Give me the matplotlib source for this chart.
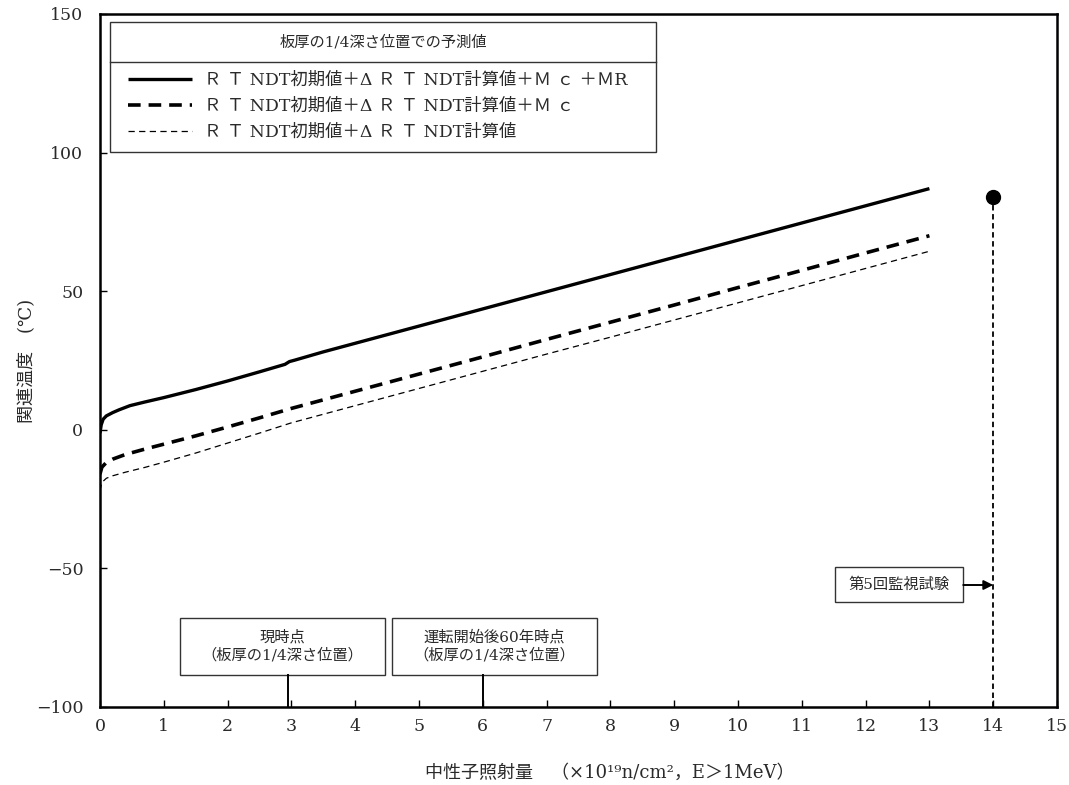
import matplotlib
matplotlib.use('Agg')
import matplotlib.pyplot as plt
from matplotlib.patches import Rectangle

# ---------------- data ----------------
fluence_a = [0.0, 0.02, 0.05, 0.1, 0.2, 0.3, 0.47, 0.7, 1.0, 1.5, 2.0, 2.5, 2.9, 2.97, 3.05,
             3.5, 4, 5, 6, 7, 8, 9, 10, 11, 12, 13]
temp_a = [-1.2, 1.8, 3.8, 5.0, 6.2, 7.2, 8.7, 10.0, 11.6, 14.5, 17.6, 20.9, 23.6, 24.6, 25.1,
          28.1, 31.2, 37.4, 43.6, 49.8, 56.0, 62.2, 68.4, 74.6, 80.8, 87.0]

fluence_b = [0.0, 0.03, 0.1, 0.2, 0.4, 0.7, 1.0, 1.5, 2.0, 2.5, 3.0,
             4, 5, 6, 7, 8, 9, 10, 11, 12, 13]
temp_b = [-16.0, -13.5, -11.8, -10.6, -8.9, -7.0, -5.2, -2.2, 1.0, 4.3, 7.7,
          13.9, 20.1, 26.3, 32.6, 38.8, 45.0, 51.3, 57.5, 63.8, 70.0]

fluence_c = [0.0, 0.03, 0.1, 0.2, 0.4, 0.7, 1.0, 1.5, 2.0, 2.5, 3.0,
             4, 5, 6, 7, 8, 9, 10, 11, 12, 13]
temp_c = [-22.0, -19.0, -17.5, -16.6, -15.3, -13.6, -11.7, -8.4, -4.8, -1.2, 2.5,
          8.7, 14.9, 21.1, 27.3, 33.4, 39.6, 45.8, 52.0, 58.2, 64.4]

surv_x = [14.0]
surv_y = [84.0]

labels = ["Ｒ Ｔ NDT初期値＋Δ Ｒ Ｔ NDT計算値＋Ｍ ｃ ＋ＭR",
          "Ｒ Ｔ NDT初期値＋Δ Ｒ Ｔ NDT計算値＋Ｍ ｃ",
          "Ｒ Ｔ NDT初期値＋Δ Ｒ Ｔ NDT計算値"]
legend_title = "板厚の1/4深さ位置での予測値"

event_x = [2.95, 6.0]
event_labels = ["現時点\n（板厚の1/4深さ位置）", "運転開始後60年時点\n（板厚の1/4深さ位置）"]
surv_label = "第5回監視試験"

xticks = list(range(0, 16))
yticks = [-100, -50, 0, 50, 100, 150]

# ---------------- figure ----------------
plt.rcParams['font.family'] = ['DejaVu Serif', 'Noto Sans CJK JP']
txtc = '#2a2a2a'

fig = plt.figure(figsize=(10.69, 7.85), dpi=100)
ax = fig.add_axes([0.0935, 0.0994, 0.8953, 0.8828])

ax.plot(fluence_a, temp_a, color='black', lw=2.4, solid_capstyle='butt', label=labels[0])
ax.plot(fluence_b, temp_b, color='black', lw=2.6, dashes=(3.5, 2.2), label=labels[1])
ax.plot(fluence_c, temp_c, color='black', lw=0.9, dashes=(5, 3.5), label=labels[2])

# surveillance test point with dashed drop line
ax.plot(surv_x, surv_y, 'o', color='black', ms=10, zorder=5)
ax.vlines(surv_x, -100, surv_y, colors='black', lw=1.3, linestyles=(0, (3, 2)))

ax.set_xlim(0, 15)
ax.set_ylim(-100, 150)
ax.set_xticks(xticks)
ax.set_yticks(yticks)
ax.tick_params(direction='in', length=5, width=1, labelsize=12.5, colors='black',
               labelcolor=txtc)
ax.tick_params(axis='x', pad=8)
ax.tick_params(axis='y', pad=12)
for s in ax.spines.values():
    s.set_linewidth(1.8)

ax.set_xlabel("中性子照射量　（×10¹⁹n/cm²，E＞1MeV）", fontsize=13, color=txtc)
ax.xaxis.set_label_coords(0.533, -0.082)
ax.set_ylabel("関連温度　(℃)", fontsize=13, color=txtc)
ax.yaxis.set_label_coords(-0.068, 0.5)

# legend frame with title row
ax.add_patch(Rectangle((0.0104, 0.8009), 0.5706, 0.1876, transform=ax.transAxes,
                       fill=True, fc='white', ec='#333333', lw=1.0, zorder=3))
ax.plot([0.0104, 0.581], [0.9307, 0.9307], transform=ax.transAxes, color='#333333', lw=1.0, zorder=4)
ax.text(0.2957, 0.959, legend_title, transform=ax.transAxes, ha='center', va='center',
        fontsize=11, color=txtc, zorder=4)
leg = ax.legend(loc='upper left', bbox_to_anchor=(0.0293, 0.916), frameon=False,
                fontsize=12.5, handlelength=3.7, handletextpad=0.7, labelspacing=0.52,
                borderpad=0, borderaxespad=0)
for t in leg.get_texts():
    t.set_color(txtc)
leg.set_zorder(5)

# event boxes
box_specs = [(1.25, 4.47), (4.58, 7.79)]
for (x0, x1), ex, lab in zip(box_specs, event_x, event_labels):
    ax.add_patch(Rectangle((x0, -88.5), x1 - x0, 20.6, fc='white', ec='#333333', lw=1.0, zorder=3))
    ax.text((x0 + x1) / 2, -78.2, lab, ha='center', va='center', fontsize=11,
            color=txtc, linespacing=1.3, zorder=4)
    ax.plot([ex, ex], [-88.5, -100], color='black', lw=1.4, zorder=4)

# surveillance box with arrow
ax.add_patch(Rectangle((11.52, -62.1), 2.01, 12.6, fc='white', ec='#333333', lw=1.0, zorder=3))
ax.text(12.525, -55.8, surv_label, ha='center', va='center', fontsize=11, color=txtc, zorder=4)
ax.annotate('', xy=(surv_x[0], -56), xytext=(13.53, -56),
            arrowprops=dict(arrowstyle='-|>', color='black', lw=1.4, mutation_scale=14,
                            shrinkA=0, shrinkB=0))

fig.savefig('out.png', dpi=100)
